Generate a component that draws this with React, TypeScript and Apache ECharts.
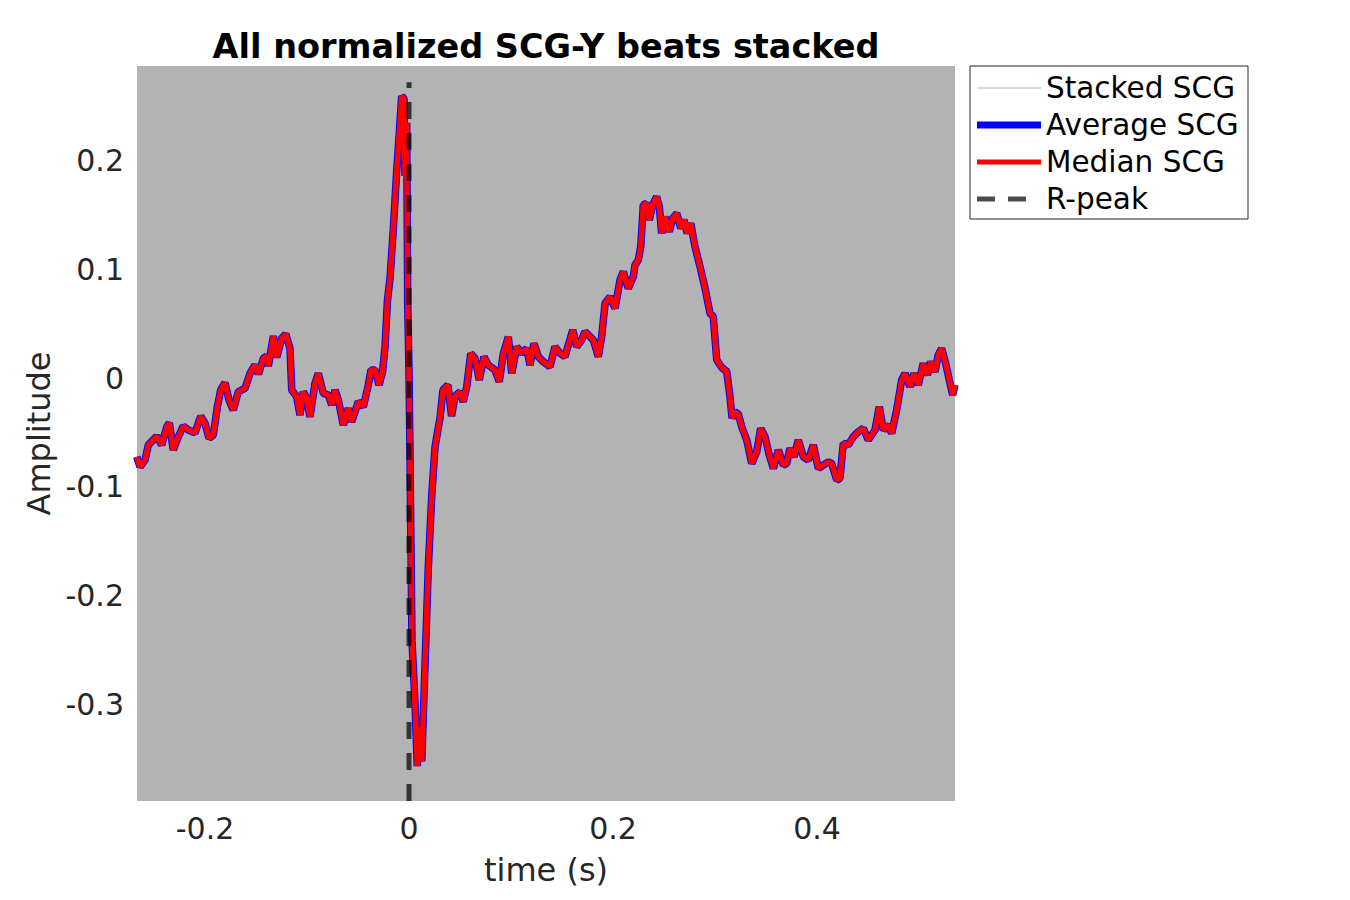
import { useEffect, useRef } from "react";
import * as echarts from "echarts";

const timeS = [
  -0.2670, -0.2637, -0.2588, -0.2556, -0.2507, -0.2474, -0.2425, -0.2375, -0.2350, -0.2311,
  -0.2262, -0.2213, -0.2164, -0.2098, -0.2042, -0.2000, -0.1961, -0.1919, -0.1879, -0.1846,
  -0.1804, -0.1765, -0.1723, -0.1674, -0.1608, -0.1559, -0.1510, -0.1477, -0.1428, -0.1395,
  -0.1379, -0.1330, -0.1297, -0.1248, -0.1209, -0.1167, -0.1150, -0.1101, -0.1069, -0.1036,
  -0.1003, -0.0971, -0.0922, -0.0889, -0.0840, -0.0791, -0.0758, -0.0725, -0.0693, -0.0644,
  -0.0595, -0.0562, -0.0497, -0.0448, -0.0399, -0.0373, -0.0333, -0.0294, -0.0260, -0.0235,
  -0.0211, -0.0186, -0.0154, -0.0121, -0.0095, -0.0072, -0.0049, -0.0039, -0.0023, -0.0013,
  0.0000, 0.0010, 0.0017, 0.0029, 0.0059, 0.0081, 0.0101, 0.0125, 0.0157, 0.0189,
  0.0223, 0.0255, 0.0287, 0.0304, 0.0333, 0.0382, 0.0417, 0.0451, 0.0500, 0.0532,
  0.0566, 0.0605, 0.0647, 0.0689, 0.0735, 0.0777, 0.0843, 0.0885, 0.0925, 0.0974,
  0.1007, 0.1056, 0.1105, 0.1154, 0.1186, 0.1225, 0.1268, 0.1317, 0.1382, 0.1431,
  0.1480, 0.1529, 0.1562, 0.1605, 0.1644, 0.1693, 0.1725, 0.1758, 0.1807, 0.1856,
  0.1889, 0.1922, 0.1971, 0.2020, 0.2069, 0.2101, 0.2150, 0.2199, 0.2216, 0.2248,
  0.2272, 0.2297, 0.2330, 0.2356, 0.2389, 0.2428, 0.2454, 0.2477, 0.2510, 0.2552,
  0.2585, 0.2625, 0.2664, 0.2696, 0.2728, 0.2762, 0.2804, 0.2853, 0.2902, 0.2951,
  0.2983, 0.3017, 0.3066, 0.3115, 0.3147, 0.3167, 0.3196, 0.3228, 0.3262, 0.3311,
  0.3360, 0.3409, 0.3448, 0.3490, 0.3532, 0.3572, 0.3621, 0.3670, 0.3703, 0.3735,
  0.3775, 0.3817, 0.3866, 0.3915, 0.3964, 0.4013, 0.4062, 0.4111, 0.4144, 0.4193,
  0.4225, 0.4258, 0.4307, 0.4356, 0.4405, 0.4454, 0.4503, 0.4569, 0.4611, 0.4650,
  0.4699, 0.4732, 0.4781, 0.4830, 0.4863, 0.4912, 0.4951, 0.4993, 0.5042, 0.5082,
  0.5115, 0.5157, 0.5189, 0.5222, 0.5265, 0.5297, 0.5330, 0.5353,
];

const averageAmp = [
  -0.0724, -0.0816, -0.0754, -0.0616, -0.0570, -0.0534, -0.0616, -0.0448, -0.0411, -0.0662,
  -0.0540, -0.0442, -0.0478, -0.0503, -0.0350, -0.0417, -0.0555, -0.0524, -0.0264, -0.0110,
  -0.0043, -0.0202, -0.0294, -0.0126, -0.0095, 0.0043, 0.0120, 0.0037, 0.0181, 0.0202,
  0.0110, 0.0386, 0.0190, 0.0365, 0.0405, 0.0273, -0.0110, -0.0172, -0.0340, -0.0126,
  -0.0187, -0.0356, -0.0049, 0.0043, -0.0141, -0.0156, -0.0248, -0.0110, -0.0202, -0.0432,
  -0.0279, -0.0402, -0.0218, -0.0264, -0.0064, 0.0074, 0.0074, -0.0064, 0.0055, 0.0288,
  0.0718, 0.0920, 0.1369, 0.1902, 0.2259, 0.2592, 0.2570, 0.1858, 0.2347, 0.0701,
  0.0034, -0.0722, -0.1389, -0.2413, -0.2992, -0.3569, -0.3213, -0.3525, -0.2636, -0.1745,
  -0.1078, -0.0634, -0.0455, -0.0368, -0.0110, -0.0064, -0.0350, -0.0166, -0.0126, -0.0218,
  -0.0080, 0.0227, 0.0181, -0.0018, 0.0196, 0.0120, 0.0074, -0.0034, 0.0227, 0.0380,
  0.0043, 0.0288, 0.0227, 0.0273, 0.0120, 0.0319, 0.0196, 0.0150, 0.0104, 0.0288,
  0.0227, 0.0196, 0.0304, 0.0442, 0.0288, 0.0350, 0.0426, 0.0396, 0.0350, 0.0196,
  0.0380, 0.0687, 0.0748, 0.0641, 0.0902, 0.0978, 0.0825, 0.0932, 0.1040, 0.1086,
  0.1208, 0.1592, 0.1607, 0.1454, 0.1592, 0.1668, 0.1576, 0.1331, 0.1484, 0.1346,
  0.1469, 0.1515, 0.1377, 0.1454, 0.1331, 0.1423, 0.1208, 0.1024, 0.0828, 0.0595,
  0.0564, 0.0166, 0.0097, 0.0060, -0.0172, -0.0368, -0.0313, -0.0331, -0.0448, -0.0570,
  -0.0785, -0.0678, -0.0463, -0.0540, -0.0708, -0.0831, -0.0662, -0.0800, -0.0785, -0.0647,
  -0.0724, -0.0570, -0.0724, -0.0754, -0.0616, -0.0831, -0.0800, -0.0770, -0.0785, -0.0938,
  -0.0923, -0.0601, -0.0616, -0.0540, -0.0494, -0.0463, -0.0570, -0.0478, -0.0264, -0.0478,
  -0.0432, -0.0509, -0.0294, -0.0018, 0.0043, -0.0080, 0.0043, -0.0064, 0.0135, 0.0028,
  0.0150, 0.0058, 0.0212, 0.0273, 0.0120, -0.0018, -0.0156, -0.0064,
];

// Median and stacked beats coincide with the average at this resolution
const medianAmp = averageAmp.slice();
const stackedAmp = averageAmp.slice();

const rPeakTime = 0;
const rPeakSpan = [-0.389, 0.272];

const xTicks = [-0.2, 0, 0.2, 0.4];
const yTicks = [-0.3, -0.2, -0.1, 0, 0.1, 0.2];
const xRange = [-0.2667, 0.5353];
const yRange = [-0.389, 0.287];

const seriesNames = ["Stacked SCG", "Average SCG", "Median SCG", "R-peak"];
const seriesColors = ["#b0b0b0", "#0000ff", "#ff0000", "rgba(0,0,0,0.7)"];
const seriesWidths = [1, 7.5, 5.5, 5];
const rPeakDash = [17, 14];

const toPairs = (xs: number[], ys: number[]) => xs.map((x, i) => [x, ys[i]]);

export default function App() {
  const ref = useRef<HTMLDivElement>(null);

  useEffect(() => {
    if (!ref.current) return;
    const chart = echarts.init(ref.current, undefined, { renderer: "svg" });
    const font = "DejaVu Sans";

    // legend drawn as graphic elements (MATLAB-style box)
    const legX = 970;
    const legY = 66;
    const legW = 278;
    const legH = 153;
    const rowY0 = 88;
    const rowPitch = 37;
    const legendChildren: any[] = [
      {
        type: "rect",
        shape: { x: legX, y: legY, width: legW, height: legH },
        style: { fill: "#ffffff", stroke: "#262626", lineWidth: 1 },
      },
    ];
    seriesNames.forEach((name, i) => {
      const y = rowY0 + i * rowPitch;
      legendChildren.push({
        type: "line",
        shape: { x1: 977, y1: y, x2: i === 3 ? 1026 : 1041, y2: y },
        style: {
          stroke: seriesColors[i],
          lineWidth: i === 1 ? 7 : i === 2 ? 5 : seriesWidths[i],
          lineDash: i === 3 ? [18, 13] : null,
        },
      });
      legendChildren.push({
        type: "text",
        x: 1046,
        y,
        style: {
          text: name,
          fontFamily: font,
          fontSize: 29.5,
          fill: "#000000",
          verticalAlign: "middle",
          align: "left",
        },
      });
    });

    chart.setOption({
      animation: false,
      backgroundColor: "#ffffff",
      textStyle: { fontFamily: font },
      title: {
        text: "All normalized SCG-Y beats stacked",
        left: 541,
        top: 24,
        textAlign: "center",
        textStyle: { fontFamily: font, fontSize: 33.5, fontWeight: "bold", color: "#000000" },
      },
      graphic: [{ type: "group", children: legendChildren }],
      grid: {
        left: 137,
        top: 66,
        width: 818,
        height: 735,
        show: true,
        backgroundColor: "#b3b3b3",
        borderWidth: 0,
        containLabel: false,
      },
      xAxis: {
        type: "value",
        min: xRange[0],
        max: xRange[1],
        name: "time (s)",
        nameLocation: "middle",
        nameGap: 53,
        nameTextStyle: { fontFamily: font, fontSize: 32, color: "#262626" },
        axisLine: { show: false },
        axisTick: { show: false },
        splitLine: { show: false },
        axisLabel: {
          customValues: xTicks,
          fontFamily: font,
          fontSize: 30,
          color: "#262626",
          margin: 12,
        },
      },
      yAxis: {
        type: "value",
        min: yRange[0],
        max: yRange[1],
        name: "Amplitude",
        nameLocation: "middle",
        nameGap: 80,
        nameTextStyle: { fontFamily: font, fontSize: 32, color: "#262626" },
        axisLine: { show: false },
        axisTick: { show: false },
        splitLine: { show: false },
        axisLabel: {
          customValues: yTicks,
          fontFamily: font,
          fontSize: 30,
          color: "#262626",
          margin: 13,
        },
      },
      series: [
        {
          name: seriesNames[0],
          type: "line",
          data: toPairs(timeS, stackedAmp),
          symbol: "none",
          silent: true,
          lineStyle: { color: seriesColors[0], width: seriesWidths[0] },
          z: 1,
        },
        {
          name: seriesNames[1],
          type: "line",
          data: toPairs(timeS, averageAmp),
          symbol: "none",
          silent: true,
          lineStyle: { color: seriesColors[1], width: seriesWidths[1] },
          z: 2,
        },
        {
          name: seriesNames[2],
          type: "line",
          data: toPairs(timeS, medianAmp),
          symbol: "none",
          silent: true,
          lineStyle: { color: seriesColors[2], width: seriesWidths[2] },
          z: 3,
        },
        {
          name: seriesNames[3],
          type: "line",
          data: [
            [rPeakTime, rPeakSpan[0]],
            [rPeakTime, rPeakSpan[1]],
          ],
          symbol: "none",
          silent: true,
          lineStyle: { color: seriesColors[3], width: seriesWidths[3], type: rPeakDash },
          z: 4,
        },
      ],
    });
    return () => chart.dispose();
  }, []);

  return (
    <div
      ref={ref}
      style={{ position: "absolute", left: 0, top: 0, width: 1350, height: 900 }}
    />
  );
}
